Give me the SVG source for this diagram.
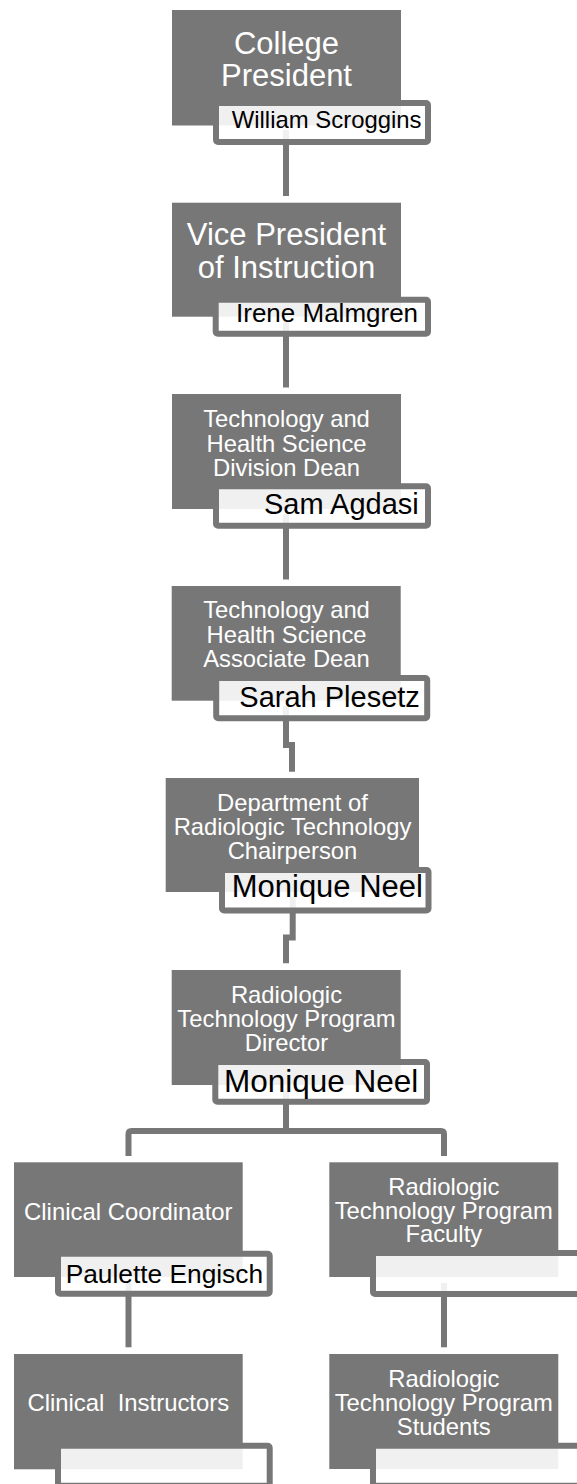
<svg xmlns="http://www.w3.org/2000/svg" width="577" height="1484" viewBox="0 0 577 1484">
<style>
.title{fill:#777777}
.name{fill:#ffffff;fill-opacity:0.89;stroke:#777777;stroke-width:6}
.conn{fill:none;stroke:#777777;stroke-width:6}
.tt{font-family:"Liberation Sans",Arial,sans-serif;fill:#ffffff;text-anchor:middle}
.nt{font-family:"Liberation Sans",Arial,sans-serif;fill:#000000}
</style>
<rect width="577" height="1484" fill="#ffffff"/>
<g id="connectors">
<path class="conn" d="M286,130 V196"/>
<path class="conn" d="M286,321 V387.5"/>
<path class="conn" d="M286,514 V579.5"/>
<path class="conn" d="M286,706 V745 H292 V771.7"/>
<path class="conn" d="M292.7,897 V937.5 H286 V963.3"/>
<path class="conn" d="M286,1091 V1131"/>
<path class="conn" d="M128.5,1156 V1134 Q128.5,1131 131.5,1131 H441 Q444,1131 444,1134 V1156"/>
<path class="conn" d="M128.5,1283 V1347.3"/>
<path class="conn" d="M444,1283 V1347.3"/>
</g>
<g id="college-president">
<rect class="title" x="172" y="10" width="229" height="115.5"/>
<text class="tt" font-size="31" x="286.5" y="53.5">College</text>
<text class="tt" font-size="31" x="286.5" y="86">President</text>
<rect class="name" x="216" y="103" width="212" height="39" rx="2"/>
<text class="nt" font-size="23.9" x="231.7" y="128.3">William Scroggins</text>
</g>
<g id="vice-president">
<rect class="title" x="172" y="202.7" width="229" height="114"/>
<text class="tt" font-size="31" x="286.5" y="245">Vice President</text>
<text class="tt" font-size="31" x="286.5" y="278">of Instruction</text>
<rect class="name" x="215.7" y="299.7" width="212.3" height="34" rx="2"/>
<text class="nt" font-size="26" x="236" y="321.5">Irene Malmgren</text>
</g>
<g id="division-dean">
<rect class="title" x="172" y="394" width="229" height="115"/>
<text class="tt" font-size="23.8" x="286.5" y="426.5">Technology and</text>
<text class="tt" font-size="23.8" x="286.5" y="451.5">Health Science</text>
<text class="tt" font-size="23.8" x="286.5" y="476">Division Dean</text>
<rect class="name" x="216" y="486.3" width="212" height="39.4" rx="2"/>
<text class="nt" font-size="29" x="264" y="514.3">Sam Agdasi</text>
</g>
<g id="associate-dean">
<rect class="title" x="171.7" y="586" width="229" height="114.7"/>
<text class="tt" font-size="23.8" x="286.5" y="618.3">Technology and</text>
<text class="tt" font-size="23.8" x="286.5" y="643.3">Health Science</text>
<text class="tt" font-size="23.8" x="286.5" y="667.3">Associate Dean</text>
<rect class="name" x="216.2" y="678" width="211" height="40.2" rx="2"/>
<text class="nt" font-size="29" x="239.3" y="706.5">Sarah Plesetz</text>
</g>
<g id="chairperson">
<rect class="title" x="165.7" y="778" width="253.3" height="114"/>
<text class="tt" font-size="23.8" x="292.5" y="811">Department of</text>
<text class="tt" font-size="23.8" x="292.5" y="835">Radiologic Technology</text>
<text class="tt" font-size="23.8" x="292.5" y="858.5">Chairperson</text>
<rect class="name" x="222" y="870" width="206.5" height="40.5" rx="2"/>
<text class="nt" font-size="31" x="231.7" y="896.7">Monique Neel</text>
</g>
<g id="program-director">
<rect class="title" x="171.7" y="970" width="229" height="115"/>
<text class="tt" font-size="23.8" x="286.5" y="1003">Radiologic</text>
<text class="tt" font-size="23.8" x="286.5" y="1027">Technology Program</text>
<text class="tt" font-size="23.8" x="286.5" y="1051">Director</text>
<rect class="name" x="215.3" y="1062" width="211.7" height="39.7" rx="2"/>
<text class="nt" font-size="31.5" x="224" y="1091.7">Monique Neel</text>
</g>
<g id="clinical-coordinator">
<rect class="title" x="14" y="1162.3" width="228.7" height="114.7"/>
<text class="tt" font-size="23.9" x="128.3" y="1220">Clinical Coordinator</text>
<rect class="name" x="58" y="1253.7" width="211.7" height="40" rx="2"/>
<text class="nt" font-size="26.3" x="65.7" y="1283.3">Paulette Engisch</text>
</g>
<g id="program-faculty">
<rect class="title" x="329.3" y="1162.3" width="229" height="114.7"/>
<text class="tt" font-size="23.8" x="443.8" y="1195">Radiologic</text>
<text class="tt" font-size="23.8" x="443.8" y="1218.5">Technology Program</text>
<text class="tt" font-size="23.8" x="443.8" y="1242">Faculty</text>
<rect class="name" x="373" y="1253" width="220" height="41" rx="2"/>
</g>
<g id="clinical-instructors">
<rect class="title" x="14" y="1354" width="228.7" height="115.3"/>
<text class="tt" font-size="23.9" x="128.3" y="1410.7" xml:space="preserve" style="white-space:pre">Clinical  Instructors</text>
<rect class="name" x="58" y="1445.7" width="211.7" height="40" rx="2"/>
</g>
<g id="program-students">
<rect class="title" x="329.3" y="1354" width="229" height="115"/>
<text class="tt" font-size="23.8" x="443.8" y="1387">Radiologic</text>
<text class="tt" font-size="23.8" x="443.8" y="1411">Technology Program</text>
<text class="tt" font-size="23.8" x="443.8" y="1435">Students</text>
<rect class="name" x="373" y="1445.7" width="220" height="40" rx="2"/>
</g>
</svg>
